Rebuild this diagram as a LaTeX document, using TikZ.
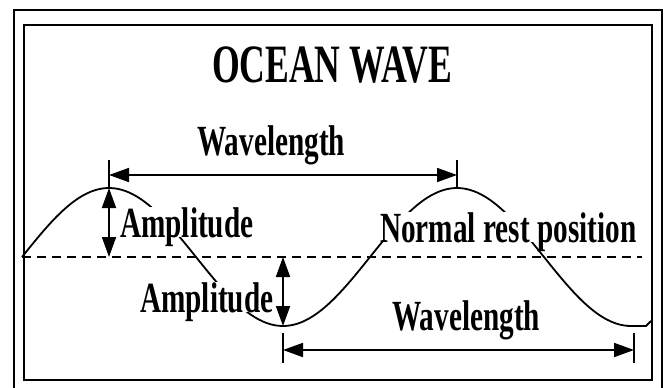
\documentclass[tikz,border=0pt]{standalone}
\usepackage{fontspec}
\newfontfamily\wavefont{Liberation Serif}[FakeStretch=0.66]
\newfontfamily\labelfont{Liberation Serif}[FakeStretch=0.68]
\usetikzlibrary{arrows.meta}

\begin{document}
\begin{tikzpicture}[x=1pt, y=-1pt,
          wavetext/.style={font={\labelfont\bfseries\fontsize{43}{43}\selectfont}, anchor=base west, inner sep=0pt, text depth=0pt, fill=white},
          wavetitle/.style={font={\wavefont\bfseries\fontsize{54}{54}\selectfont}, anchor=base, inner sep=0pt},
          dimarrow/.style={{Triangle[length=20pt,width=14pt]}-{Triangle[length=20pt,width=14pt]}, line width=1.8pt},
          tickline/.style={line width=1.8pt},
          boxline/.style={line width=2.4pt}
        ]
          \useasboundingbox (0,0) rectangle (667,388);

          % Frames
          \draw[boxline] (14,389) |- (662,10) -- (662,389);
          \draw[boxline] (24,25) rectangle (652,380);

          % Rest line and wave
          \coordinate (restL) at (22,257);
          \coordinate (restR) at (642,257);
          \draw[line width=1.4pt, dash pattern=on 9pt off 6pt] (restL) -- (restR);
          \draw[line width=1.8pt] plot[domain=22:631, samples=160] (\x,{257-69*sin(1.03448*(\x-22))})
            -- (646,326) -- (651,321);

          % Labels
          \node[wavetitle] (title) at (332,82) {OCEAN WAVE};
          \node[wavetext] (wlTop) at (197,155) {Wavelength};
          \node[wavetext] (ampA) at (120,237) {Amplitude};
          \node[wavetext] (ampB) at (140,312) {Amplitude};
          \node[wavetext] (rest) at (380,242) {Normal rest position};
          \node[wavetext] (wlBot) at (392,330) {Wavelength};

          % Points on the wave
          \coordinate (crestA) at (109,188);
          \coordinate (restA) at (109,257);
          \coordinate (restB) at (283,257);
          \coordinate (troughA) at (283,326);
          \coordinate (wlA) at (109,175);
          \coordinate (wlB) at (457,175);
          \coordinate (wlC) at (283,350);
          \coordinate (wlD) at (634,350);

          % Arrows
          \draw[dimarrow] (crestA) -- (restA);
          \draw[dimarrow] (restB) -- (troughA);
          \draw[dimarrow] (wlA) -- (wlB);
          \draw[dimarrow] (wlC) -- (wlD);

          % Ticks
          \draw[tickline] (wlA) ++(0,-15) -- ++(0,27);
          \draw[tickline] (wlB) ++(0,-15) -- ++(0,27);
          \draw[tickline] (wlC) ++(0,-17) -- ++(0,30);
          \draw[tickline] (wlD) ++(0,-17) -- ++(0,30);
        \end{tikzpicture}
\end{document}
